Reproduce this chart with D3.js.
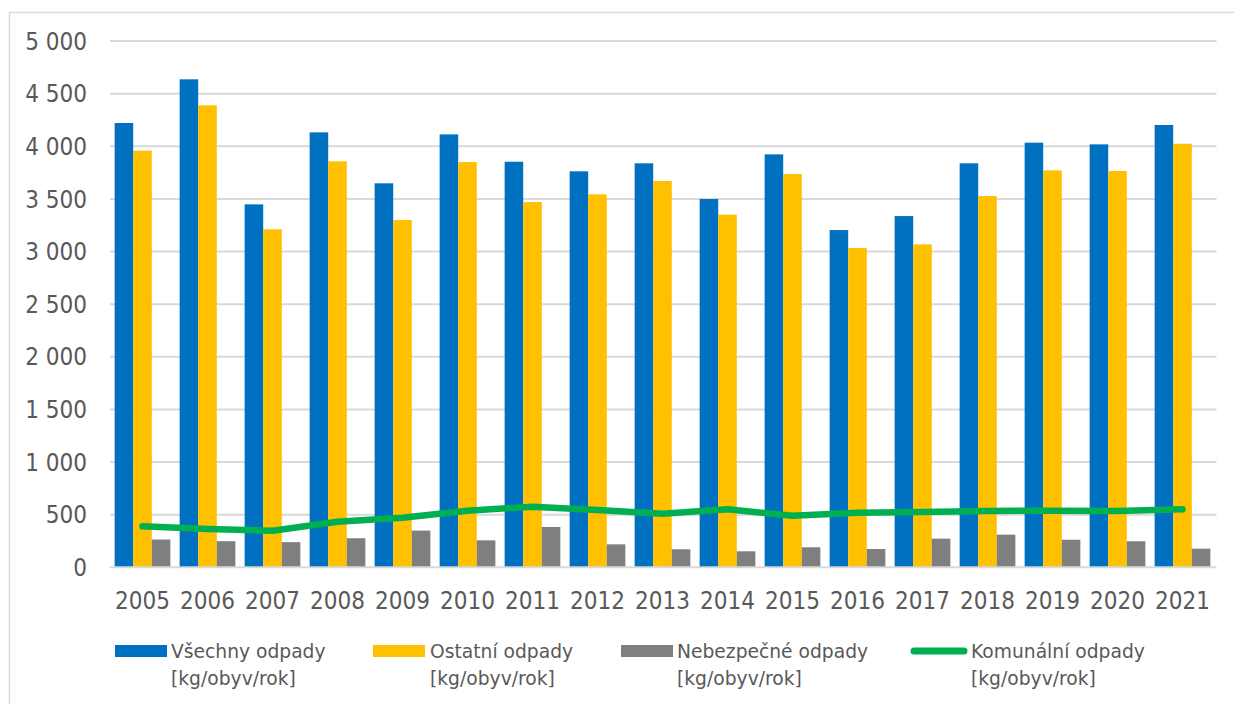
<!DOCTYPE html>
<html>
<head>
<meta charset="utf-8">
<script src="https://cdn.jsdelivr.net/npm/d3@7"></script>
<style>
  html, body { margin: 0; padding: 0; background: #fff; }
  svg { display: block; }
  .tick-y, .tick-x { font-family: "DejaVu Sans Condensed", "DejaVu Sans", sans-serif; font-stretch: condensed; fill: #595959; }
  .leg { font-family: "DejaVu Sans", Verdana, sans-serif; fill: #595959; }
</style>
</head>
<body>
<script>
const years = ["2005","2006","2007","2008","2009","2010","2011","2012","2013","2014","2015","2016","2017","2018","2019","2020","2021"];
const vsechny = [4221, 4636, 3448, 4132, 3648, 4113, 3853, 3762, 3838, 3499, 3923, 3204, 3337, 3838, 4034, 4018, 4202];
const ostatni = [3958, 4389, 3211, 3857, 3299, 3850, 3470, 3543, 3670, 3350, 3736, 3033, 3068, 3527, 3771, 3765, 4024];
const nebezpecne = [264, 248, 239, 276, 349, 256, 383, 218, 171, 152, 190, 174, 272, 310, 262, 247, 177];
const komunalni = [389, 365, 348, 432, 470, 538, 576, 544, 509, 551, 490, 519, 525, 535, 538, 535, 551];
const yTicks = [0, 500, 1000, 1500, 2000, 2500, 3000, 3500, 4000, 4500, 5000];
const barSeries = [
  { name: "Všechny odpady", values: vsechny, color: "#0070C0" },
  { name: "Ostatní odpady", values: ostatni, color: "#FFC000" },
  { name: "Nebezpečné odpady", values: nebezpecne, color: "#7F7F7F" }
];
const lineSeries = { name: "Komunální odpady", values: komunalni, color: "#00B050" };
const unitLabel = "[kg/obyv/rok]";

const W = 1234, H = 704;
const svg = d3.select("body").append("svg").attr("width", W).attr("height", H);

// outer chart frame (left and top edges visible)
svg.append("rect").attr("x", 9.5).attr("y", 12.5).attr("width", 1300).attr("height", 800)
  .attr("fill", "none").attr("stroke", "#D9D9D9").attr("stroke-width", 1.5);

const x0 = d3.scaleBand().domain(years).range([110, 1215]).paddingInner(0).paddingOuter(0);
const x1 = d3.scaleBand().domain(barSeries.map(d => d.name)).range([0, x0.bandwidth()]).paddingInner(0).paddingOuter(0.25);
const y = d3.scaleLinear().domain([0, 5000]).range([567.3, 41]);

const loc = d3.formatLocale({ decimal: ",", thousands: " ", grouping: [3], currency: ["", ""] });
const fmt = loc.format(",d");

// gridlines
svg.append("g").selectAll("line").data(yTicks.filter(t => t > 0)).join("line")
  .attr("x1", 110).attr("x2", 1216.5)
  .attr("y1", d => y(d)).attr("y2", d => y(d))
  .attr("stroke", "#D9D9D9").attr("stroke-width", 2);

// y tick labels
svg.append("g").selectAll("text").data(yTicks).join("text")
  .attr("class", "tick-y")
  .attr("x", 87).attr("y", d => y(d)).attr("dy", "0.36em")
  .attr("text-anchor", "end").attr("font-size", 24)
  .text(d => fmt(d));

// bars
const gBars = svg.append("g");
barSeries.forEach(s => {
  gBars.append("g").selectAll("rect").data(years).join("rect")
    .attr("x", (d) => x0(d) + x1(s.name))
    .attr("width", x1.bandwidth())
    .attr("y", (d, i) => y(s.values[i]))
    .attr("height", (d, i) => y(0) - y(s.values[i]))
    .attr("fill", s.color);
});

// x axis line
svg.append("line").attr("x1", 110).attr("x2", 1216.5).attr("y1", y(0)).attr("y2", y(0))
  .attr("stroke", "#D9D9D9").attr("stroke-width", 2);

// line
const line = d3.line().x((d, i) => x0(years[i]) + x0.bandwidth() / 2).y(d => y(d));
svg.append("path").datum(lineSeries.values)
  .attr("d", line).attr("fill", "none")
  .attr("stroke", lineSeries.color).attr("stroke-width", 6.5)
  .attr("stroke-linecap", "round").attr("stroke-linejoin", "round");

// x labels
svg.append("g").selectAll("text").data(years).join("text")
  .attr("class", "tick-x")
  .attr("x", d => x0(d) + x0.bandwidth() / 2).attr("y", 608.5)
  .attr("text-anchor", "middle").attr("font-size", 24)
  .text(d => d);

// legend
const legItems = [
  { s: barSeries[0], sx: 115, tx: 171 },
  { s: barSeries[1], sx: 373, tx: 430 },
  { s: barSeries[2], sx: 621, tx: 677 },
  { s: lineSeries, sx: 914, tx: 971, isLine: true }
];
const gLeg = svg.append("g");
legItems.forEach(it => {
  if (it.isLine) {
    gLeg.append("line").attr("x1", it.sx).attr("x2", it.sx + 50).attr("y1", 651).attr("y2", 651)
      .attr("stroke", it.s.color).attr("stroke-width", 7).attr("stroke-linecap", "round");
  } else {
    gLeg.append("rect").attr("x", it.sx).attr("y", 645).attr("width", 52).attr("height", 12)
      .attr("fill", it.s.color);
  }
  const t = gLeg.append("text").attr("class", "leg").attr("font-size", 18.7);
  t.append("tspan").attr("x", it.tx).attr("y", 658).text(it.s.name);
  t.append("tspan").attr("x", it.tx).attr("y", 685).text(unitLabel);
});
</script>
</body>
</html>
